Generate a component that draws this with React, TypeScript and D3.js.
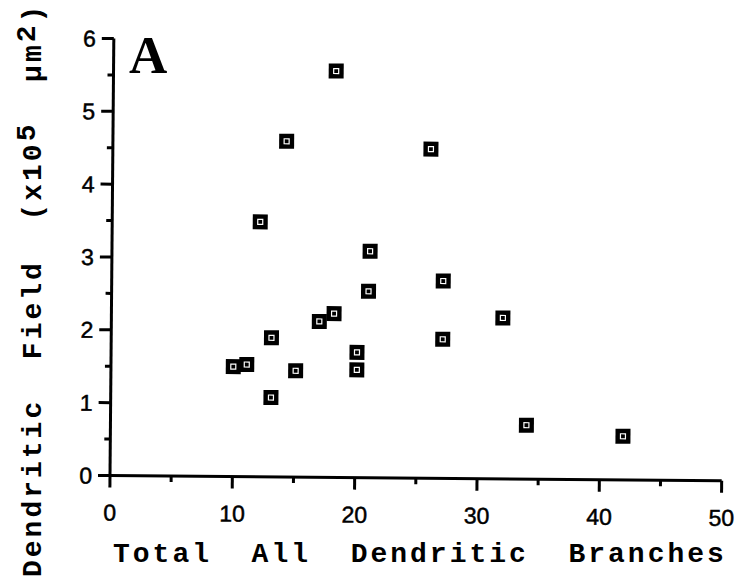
import React from "react";
import * as d3 from "d3";

// Dendritic branch counts vs. dendritic field area (x10^5 µm²)
const branches = [10, 11.1, 12.1, 13.1, 13.1, 14.2, 15.1, 17, 18.2, 18.2, 20.1, 20.1, 21, 21.1, 26, 27.1, 27.1, 32, 34, 41.9];
const fieldArea = [1.51, 1.54, 3.5, 1.09, 1.91, 4.61, 1.46, 2.14, 2.25, 5.58, 1.72, 1.48, 2.56, 3.11, 4.52, 2.71, 1.91, 2.21, 0.74, 0.6];
const xTicks = [0, 10, 20, 30, 40, 50];
const yTicks = [0, 1, 2, 3, 4, 5, 6];
const xMinor = [5, 15, 25, 35, 45];
const yMinor = [0.5, 1.5, 2.5, 3.5, 4.5, 5.5];

const W = 739;
const H = 579;
const ox = 110;
const oy = 475.5;

const x = d3.scaleLinear().domain([0, 50]).range([ox, 721.7]);
const y = d3.scaleLinear().domain([0, 6]).range([oy, 38.5]);

const sans = "'Liberation Sans', Arial, sans-serif";
const mono = "'Liberation Mono', 'Courier New', monospace";
const serif = "'Liberation Serif', 'Times New Roman', serif";

export default function App() {
  const points = branches.map((b, i) => ({ b, a: fieldArea[i] }));
  return (
    <svg
      width={W}
      height={H}
      viewBox={`0 0 ${W} ${H}`}
      style={{ position: "absolute", left: 0, top: 0, background: "#fff" }}
    >
      <rect x={0} y={0} width={W} height={H} fill="#fff" />
      <g transform={`rotate(0.5 ${ox} ${oy})`}>
        {/* axes */}
        <line x1={ox} y1={y(6)} x2={ox} y2={oy} stroke="#000" strokeWidth={3} />
        <line x1={ox} y1={oy} x2={x(50)} y2={oy} stroke="#000" strokeWidth={3} />
        {yTicks.map((t) => (
          <g key={`yt${t}`}>
            <line x1={ox - 12} x2={ox} y1={y(t)} y2={y(t)} stroke="#000" strokeWidth={3} />
            <text
              x={ox - 18}
              y={y(t)}
              dy="0.36em"
              textAnchor="end"
              fontFamily={sans}
              fontSize={23}
              fill="#000"
              stroke="#000"
              strokeWidth={0.5}
            >
              {t}
            </text>
          </g>
        ))}
        {yMinor.map((t) => (
          <line key={`ym${t}`} x1={ox - 6} x2={ox} y1={y(t)} y2={y(t)} stroke="#000" strokeWidth={3} />
        ))}
        {xTicks.map((t) => (
          <g key={`xt${t}`}>
            <line x1={x(t)} x2={x(t)} y1={oy} y2={oy + 12} stroke="#000" strokeWidth={3} />
            <text
              x={x(t)}
              y={oy + 45}
              textAnchor="middle"
              fontFamily={sans}
              fontSize={23}
              fill="#000"
              stroke="#000"
              strokeWidth={0.5}
            >
              {t}
            </text>
          </g>
        ))}
        {xMinor.map((t) => (
          <line key={`xm${t}`} x1={x(t)} x2={x(t)} y1={oy} y2={oy + 6} stroke="#000" strokeWidth={3} />
        ))}
        {/* data markers */}
        {points.map((p, i) => (
          <g key={i} transform={`translate(${x(p.b)},${y(p.a)})`}>
            <rect x={-7.5} y={-7.5} width={15} height={15} fill="#000" />
            <rect x={-2.5} y={-2.5} width={5} height={5} fill="none" stroke="#fff" strokeWidth={1.2} />
          </g>
        ))}
      </g>

      {/* panel letter */}
      <text x={129} y={73} fontFamily={serif} fontWeight="bold" fontSize={53} fill="#000">
        A
      </text>

      {/* axis titles */}
      <text
        x={113}
        y={562}
        fontFamily={mono}
        fontWeight="bold"
        fontSize={28}
        letterSpacing={3}
        fill="#000"
        style={{ whiteSpace: "pre" }}
      >
        {"Total  All  Dendritic  Branches"}
      </text>
      <text
        transform="translate(41,577) rotate(-90)"
        x={0}
        y={0}
        fontFamily={mono}
        fontWeight="bold"
        fontSize={28}
        letterSpacing={3}
        fill="#000"
        style={{ whiteSpace: "pre" }}
      >
        <tspan>{"Dendritic  Field  (x10"}</tspan>
        <tspan dy={-6}>5</tspan>
        <tspan dy={6}>{"  µm"}</tspan>
        <tspan dy={-6}>2</tspan>
        <tspan dy={6}>)</tspan>
      </text>
    </svg>
  );
}
